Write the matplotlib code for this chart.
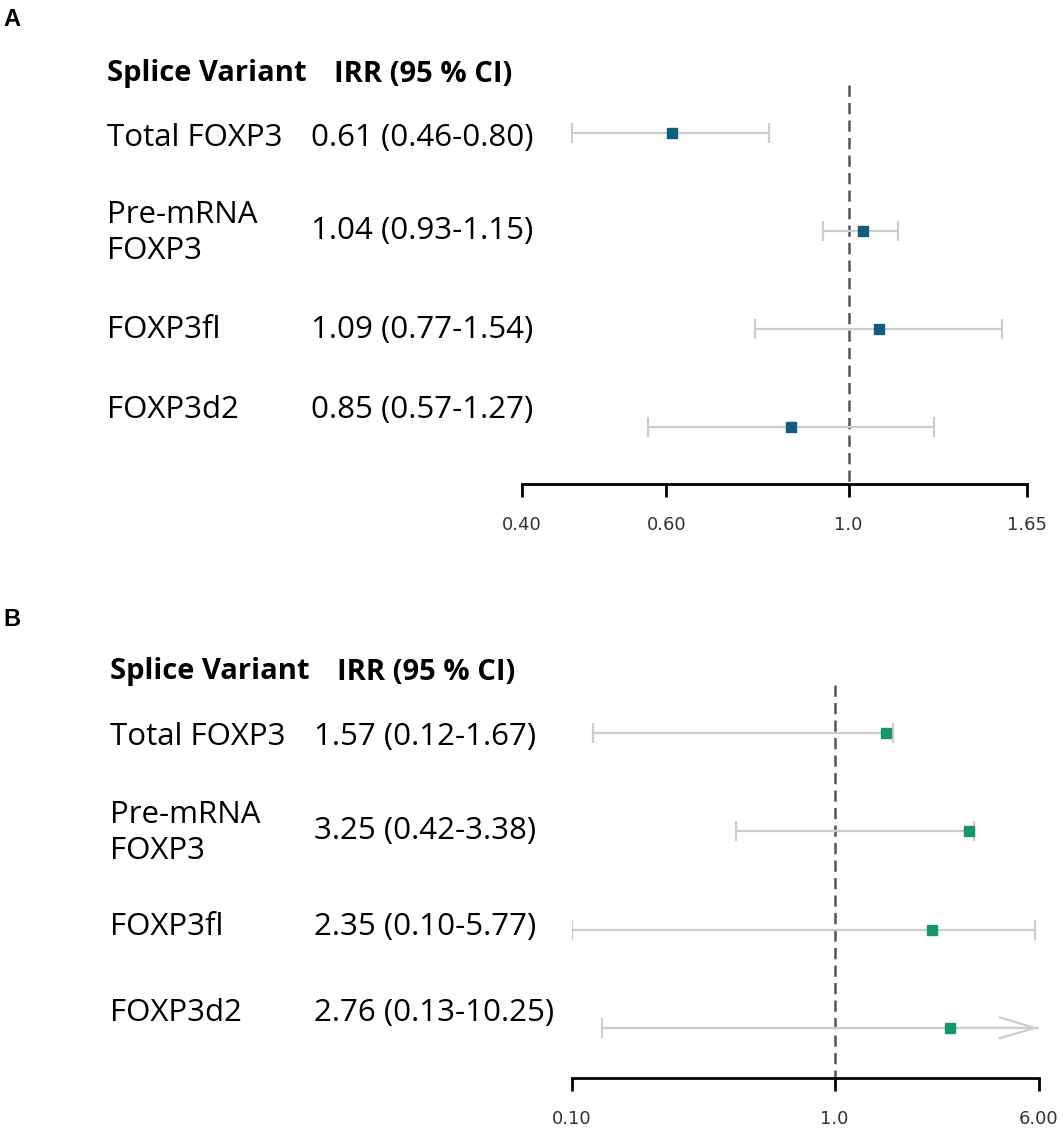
import numpy as np
import matplotlib
matplotlib.use("Agg")
import matplotlib.pyplot as plt

# ---- data ----
variants = ["Total FOXP3", "Pre-mRNA\nFOXP3", "FOXP3fl", "FOXP3d2"]

irr_a = [0.61, 1.04, 1.09, 0.85]
lo_a  = [0.46, 0.93, 0.77, 0.57]
hi_a  = [0.80, 1.15, 1.54, 1.27]

irr_b = [1.57, 3.25, 2.35, 2.76]
lo_b  = [0.12, 0.42, 0.10, 0.13]
hi_b  = [1.67, 3.38, 5.77, 10.25]

ticks_a = [0.40, 0.60, 1.0, 1.65]
tick_labels_a = ["0.40", "0.60", "1.0", "1.65"]
ticks_b = [0.10, 1.0, 6.00]
tick_labels_b = ["0.10", "1.0", "6.00"]

W, H = 1063, 1129
TXT_FONT = "Open Sans"
TXT_SIZE = 22.5
HDR_SIZE = 21
CI_GREY = "#cdcdcd"

fig = plt.figure(figsize=(W / 100, H / 100), dpi=100)


def fig_text(x, y, s, **kw):
    """Place text with pixel coords measured from the top-left corner."""
    fig.text(x / W, 1 - y / H, s, family=TXT_FONT, va="center", ha="left", **kw)


def panel(box, ylim, irr, lo, hi, ticks, tick_labels, color):
    left, top, right, bottom = box
    ax = fig.add_axes([left / W, 1 - bottom / H, (right - left) / W, (bottom - top) / H])
    ax.set_xscale("log")
    xmin, xmax = ticks[0], ticks[-1]
    ax.set_xlim(xmin, xmax)
    ax.set_ylim(ylim)
    rows = np.arange(len(irr))

    ax.vlines(1.0, -0.49, ylim[0], colors="#555555", linestyles=(0, (4.5, 2.5)),
              linewidth=1.8, zorder=1)

    for y, m, l, h in zip(rows, irr, lo, hi):
        end = min(h, xmax)
        ax.hlines(y, l, end, colors=CI_GREY, linewidth=1.6, zorder=2)
        ax.plot([l], [y], marker="|", ms=14, mew=1.6, color=CI_GREY, zorder=2)
        if h <= xmax:
            ax.plot([h], [y], marker="|", ms=14, mew=1.6, color=CI_GREY, zorder=2)
        else:
            ax.annotate("", xy=(xmax, y), xytext=(m, y),
                        arrowprops=dict(arrowstyle="->,head_length=1.7,head_width=0.5",
                                        color=CI_GREY, lw=1.6, mutation_scale=15,
                                        shrinkA=0, shrinkB=0), zorder=2)
        ax.plot([m], [y], marker="s", ms=7.5, color=color, mec=color, zorder=3)

    for s in ["left", "top", "right"]:
        ax.spines[s].set_visible(False)
    ax.spines["bottom"].set_linewidth(2)
    ax.set_yticks([])
    ax.set_xticks(ticks)
    ax.set_xticklabels(tick_labels)
    ax.xaxis.set_minor_locator(matplotlib.ticker.NullLocator())
    ax.tick_params(axis="x", direction="out", length=9, width=2, pad=14,
                   labelsize=13, labelcolor="#333333")
    for lab in ax.get_xticklabels():
        lab.set_family("DejaVu Sans")
    return ax


def table(x_lab, x_val, x_hdr, y_hdr, y_rows, irr, lo, hi):
    fig_text(x_lab, y_hdr, "Splice Variant", fontsize=HDR_SIZE, fontweight="bold")
    fig_text(x_hdr, y_hdr, "IRR (95 % CI)", fontsize=HDR_SIZE, fontweight="bold")
    for name, yl, yv, m, l, h in zip(variants, y_rows[0], y_rows[1], irr, lo, hi):
        fig_text(x_lab, yl, name, fontsize=TXT_SIZE, linespacing=1.3)
        fig_text(x_val, yv, f"{m:.2f} ({l:.2f}-{h:.2f})", fontsize=TXT_SIZE)


# panel A
fig.text(3 / W, 1 - 20 / H, "A", family="Liberation Sans", fontweight="bold",
         fontsize=17, va="center", ha="left")
table(107, 311, 334, 74,
      ([138, 233, 330, 410], [138, 231, 330, 410]),
      irr_a, lo_a, hi_a)
panel((522, 74, 1027, 484), (3.58, -0.6), irr_a, lo_a, hi_a,
      ticks_a, tick_labels_a, "#0d5f7b")

# panel B
fig.text(3 / W, 1 - 620 / H, "B", family="Liberation Sans", fontweight="bold",
         fontsize=17, va="center", ha="left")
table(110, 314, 337, 672,
      ([737, 833, 927, 1013], [737, 831, 927, 1013]),
      irr_b, lo_b, hi_b)
panel((572, 674, 1039, 1078), (3.51, -0.6), irr_b, lo_b, hi_b,
      ticks_b, tick_labels_b, "#16976a")

fig.savefig("out.png", dpi=100)
